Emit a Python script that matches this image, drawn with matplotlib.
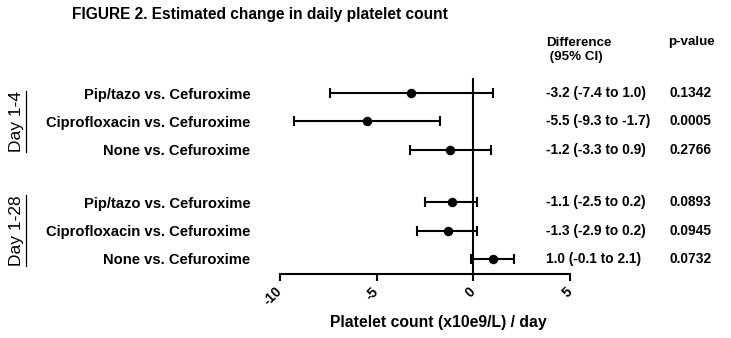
import matplotlib.pyplot as plt
from matplotlib.transforms import blended_transform_factory, ScaledTranslation
from matplotlib.lines import Line2D

plt.rcParams['font.family'] = ['Liberation Sans', 'DejaVu Sans']

labels = ["Pip/tazo vs. Cefuroxime", "Ciprofloxacin vs. Cefuroxime", "None vs. Cefuroxime",
          "Pip/tazo vs. Cefuroxime", "Ciprofloxacin vs. Cefuroxime", "None vs. Cefuroxime"]
est = [-3.2, -5.5, -1.2, -1.1, -1.3, 1.0]
lo = [-7.4, -9.3, -3.3, -2.5, -2.9, -0.1]
hi = [1.0, -1.7, 0.9, 0.2, 0.2, 2.1]
pvals = ["0.1342", "0.0005", "0.2766", "0.0893", "0.0945", "0.0732"]
groups = ["Day 1-4", "Day 1-28"]
ypos = [0, 1, 2, 3.86, 4.86, 5.86]

fig = plt.figure(figsize=(7.31, 3.38), dpi=100)
ax = fig.add_axes([280/731, 1-274/338, 290/731, 196/338])

xerr = [[e - l for e, l in zip(est, lo)], [h - e for e, h in zip(est, hi)]]
ax.errorbar(est, ypos, xerr=xerr, fmt='o', color='black', ms=5.8, elinewidth=1.5,
            capsize=3.8, capthick=1.5)
ax.axvline(0, color='black', lw=1.5)

ax.set_xlim(-10, 5)
ax.set_ylim(ypos[-1] + 0.53, -0.53)
ax.set_xticks([-10, -5, 0, 5])
ax.set_xticklabels(["-10", "-5", "0", "5"], rotation=45, fontweight='bold', fontsize=10,
                   ha='right', va='center', rotation_mode='anchor')
shift = ScaledTranslation(4/100, 0, fig.dpi_scale_trans)
for lab in ax.get_xticklabels():
    lab.set_transform(lab.get_transform() + shift)
ax.tick_params(axis='x', length=5, width=1.5, pad=6)
ax.set_yticks(ypos)
ax.set_yticklabels(labels, fontweight='bold', fontsize=10.6)
ax.tick_params(axis='y', length=0, pad=21.5)
for s in ['top', 'right', 'left']:
    ax.spines[s].set_visible(False)
ax.spines['bottom'].set_linewidth(1.5)

fig.text(438/731, 1-323/338, "Platelet count (x10e9/L) / day", fontweight='bold',
         fontsize=11.3, ha='center', va='center')
fig.text(72/731, 1-14/338, "FIGURE 2. Estimated change in daily platelet count",
         fontweight='bold', fontsize=11.2, va='center', ha='left')

tr = blended_transform_factory(fig.transFigure, ax.transData)
for y, e, l, h, p in zip(ypos, est, lo, hi, pvals):
    ax.text(546/731, y, f"{e:.1f} ({l:.1f} to {h:.1f})", transform=tr, fontweight='bold',
            fontsize=9.9, va='center', ha='left', clip_on=False)
    ax.text(669/731, y, p, transform=tr, fontweight='bold', fontsize=9.9,
            va='center', ha='left', clip_on=False)
fig.text(546/731, 1-37/338, "Difference\n (95% CI)", fontweight='bold', fontsize=9.6,
         va='top', ha='left', linespacing=1.2)
fig.text(668/731, 1-42/338, "p-value", fontweight='bold', fontsize=9.6, va='center', ha='left')

# group labels, underlined
gtexts = []
for g, yc in zip(groups, [ypos[1], ypos[4]]):
    t = ax.text(17/731, yc, g, transform=tr, rotation=90, fontsize=12.5,
                va='center', ha='center', clip_on=False)
    gtexts.append(t)

fig.canvas.draw()
r = fig.canvas.get_renderer()
for t in gtexts:
    bb = t.get_window_extent(r)
    x = bb.x1 + 1
    fig.add_artist(Line2D([x, x], [bb.y0, bb.y1], transform=None, color='black', lw=0.9))

fig.savefig("out.png", dpi=100)
